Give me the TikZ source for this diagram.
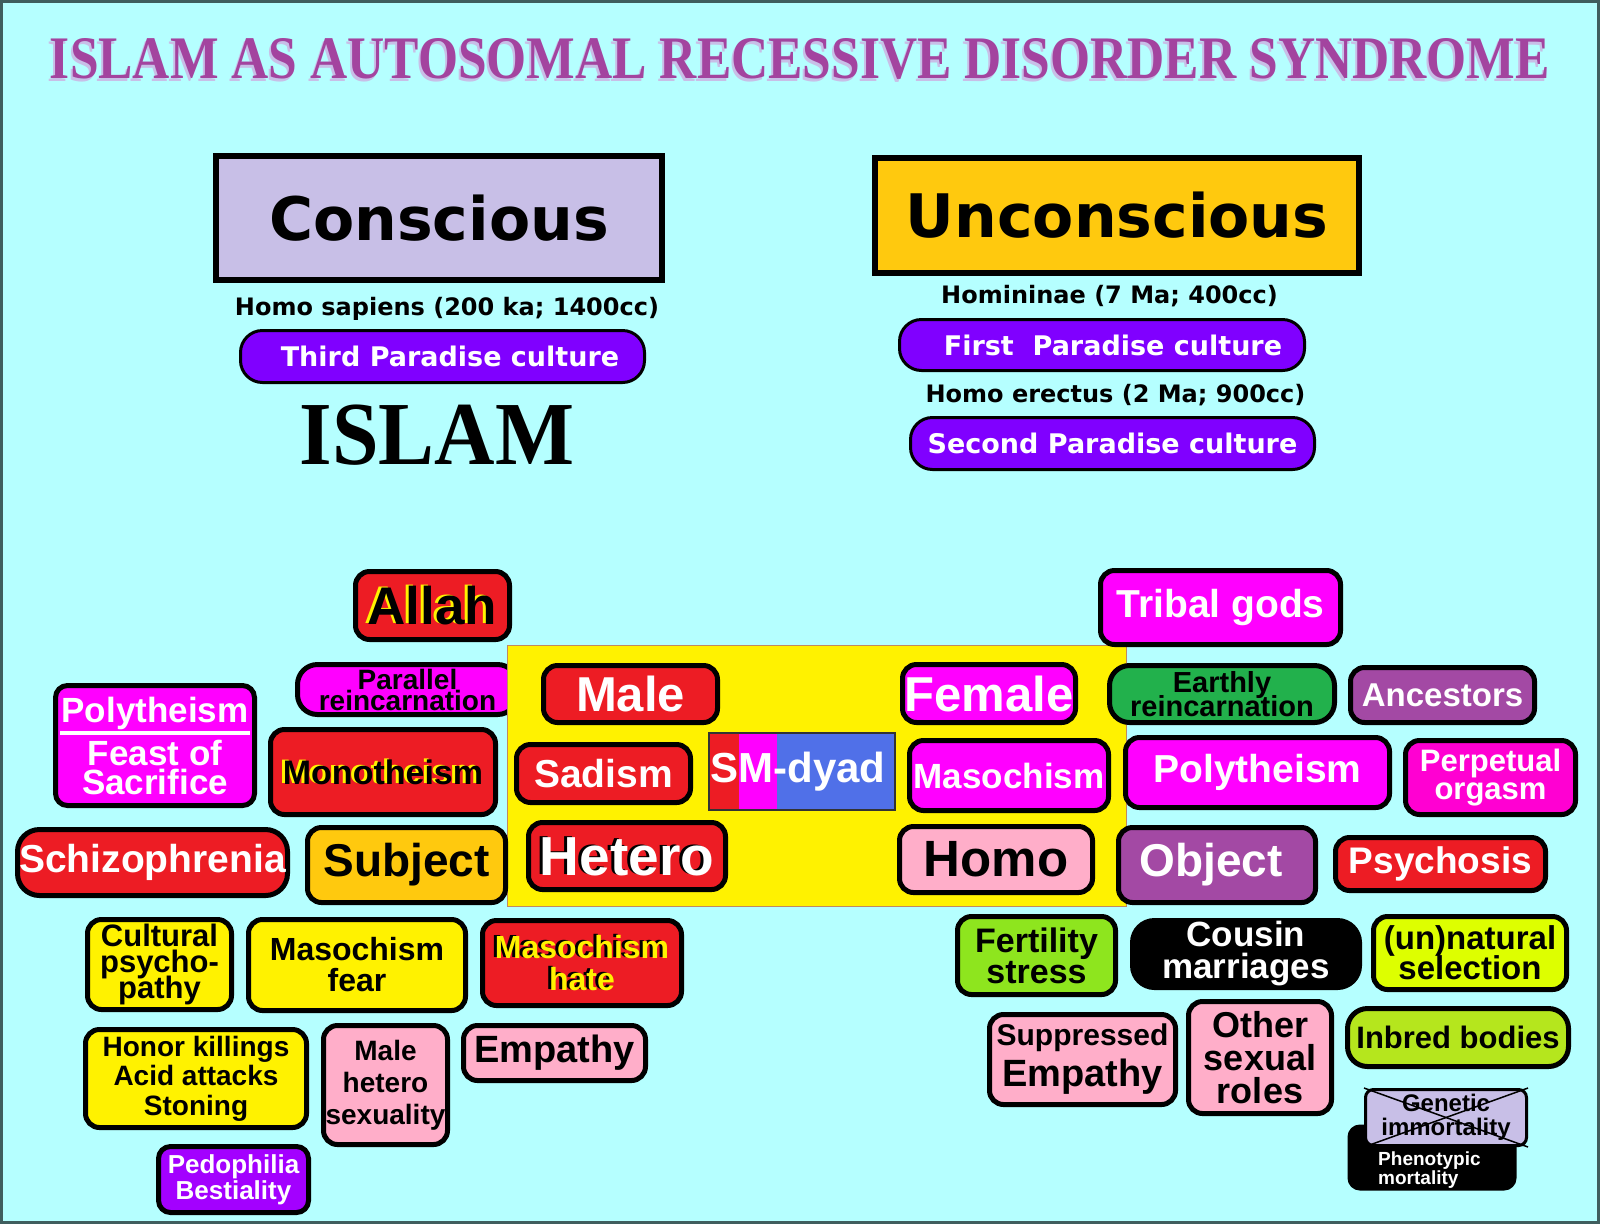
\documentclass[tikz,border=0pt]{standalone}
\usepackage{fontspec}
\setmainfont{Liberation Sans}
\newfontfamily\wideface{DejaVu Sans}
\newfontfamily\serifface{Liberation Serif}

\definecolor{bgcyan}{HTML}{B5FFFF}
\definecolor{framegrey}{HTML}{3F5E5E}
\definecolor{titlepurple}{HTML}{A3449F}
\definecolor{titleshade}{HTML}{C8BFE7}
\definecolor{lavender}{HTML}{C8BFE7}
\definecolor{amber}{HTML}{FFC90E}
\definecolor{violetbox}{HTML}{8000FF}
\definecolor{redbox}{HTML}{ED1C24}
\definecolor{magentabox}{HTML}{FF00FF}
\definecolor{pinkmagenta}{HTML}{FF00D2}
\definecolor{yellowbox}{HTML}{FFF200}
\definecolor{greenbox}{HTML}{22B14C}
\definecolor{purplebox}{HTML}{A349A4}
\definecolor{pinkbox}{HTML}{FFAEC9}
\definecolor{limebox}{HTML}{8EE51E}
\definecolor{olivebox}{HTML}{B5E61D}
\definecolor{citrusbox}{HTML}{DDFF00}
\definecolor{dyadblue}{HTML}{5070E8}
\definecolor{pedoviolet}{HTML}{A300FF}
\definecolor{panelbrown}{HTML}{C08A60}

\newcommand{\boxfs}[2]{\fontsize{#1pt}{#2pt}\selectfont\bfseries\lineskiplimit=-100pt\lineskip=0pt}
\newcommand{\twotone}[2]{\rlap{\kern-3pt\raisebox{1pt}{\textcolor{#1}{#2}}}#2}

\begin{document}
\begin{tikzpicture}[x=1pt, y=-1pt]
	\tikzstyle{tag} = [rectangle, draw=black, line width=5pt, rounded corners=14pt, inner sep=0pt, align=center]
	\tikzstyle{oval} = [rectangle, draw=black, line width=3pt, rounded corners=22pt, fill=violetbox, text=white, inner sep=0pt, font=\wideface\boxfs{27}{27}]
	\tikzstyle{header} = [rectangle, draw=black, line width=6pt, inner sep=0pt, font=\wideface\boxfs{60}{60}]
	\tikzstyle{caption} = [inner sep=0pt, anchor=base, font=\wideface\boxfs{24}{24}]

	% background and frame
	\fill[bgcyan] (0,0) rectangle (1600,1224);
	\draw[framegrey, line width=3pt] (1.5,1.5) rectangle (1598.5,1222.5);
	\useasboundingbox (0,0) rectangle (1600,1224);

	% title
	\node[inner sep=0pt, anchor=base, text=titleshade] (titleshadow) at (798,81) {\resizebox{1500pt}{40pt}{\serifface\bfseries ISLAM AS AUTOSOMAL RECESSIVE DISORDER SYNDROME}};
	\node[inner sep=0pt, anchor=base, text=titlepurple] (title) at (800,78) {\resizebox{1500pt}{40pt}{\serifface\bfseries ISLAM AS AUTOSOMAL RECESSIVE DISORDER SYNDROME}};

	% conscious side
	\node[header, fill=lavender, minimum width=446pt, minimum height=124pt] (conscious) at (439,218) {Conscious};
	\node[caption] (sapiens) at (447,315) {Homo sapiens (200 ka; 1400cc)};
	\node[oval, minimum width=404pt, minimum height=52pt] (third) at (442.5,356.5) {\hspace*{15pt}Third Paradise culture};
	\node[inner sep=0pt, anchor=base, font=\serifface\boxfs{90}{90}] (islam) at (437,464) {\scalebox{0.93}[1]{ISLAM}};

	% unconscious side
	\node[header, fill=amber, minimum width=484pt, minimum height=115pt] (unconscious) at (1117,215.5) {Unconscious};
	\node[caption] (homininae) at (1109.5,303) {Homininae (7 Ma; 400cc)};
	\node[oval, minimum width=405pt, minimum height=51pt] (first) at (1102,345) {\hspace*{22pt}First\ \ Paradise culture};
	\node[caption] (erectus) at (1115.5,402) {Homo erectus (2 Ma; 900cc)};
	\node[oval, minimum width=404pt, minimum height=52pt] (second) at (1112.5,443.5) {Second Paradise culture};

	% central dyad panel
	\node[tag, rounded corners=20pt, fill=magentabox, text=black, minimum width=220pt, minimum height=50pt, font=\boxfs{28}{21}] (parallel) at (407.5,689.5) {Parallel\\reincarnation};
	\node[draw=panelbrown, line width=1pt, fill=yellowbox, minimum width=619pt, minimum height=261pt] (panel) at (816.5,775.5) {};
	\node[tag, fill=redbox, text=white, minimum width=174pt, minimum height=57pt, font=\boxfs{49}{49}] (male) at (630.5,694) {Male};
	\node[tag, fill=magentabox, text=white, minimum width=173pt, minimum height=58pt, font=\boxfs{49}{49}] (female) at (989,693.5) {Female};
	\node[tag, fill=redbox, text=white, minimum width=174pt, minimum height=58pt, font=\boxfs{39}{39}] (sadism) at (603.5,773.5) {Sadism};
	\node[rectangle, draw=black!80, line width=2pt, fill=dyadblue, text=white, inner sep=0pt, minimum width=186pt, minimum height=77pt, font=\boxfs{42}{42},
		path picture={
			\fill[redbox] (path picture bounding box.north west) rectangle ([xshift=30pt]path picture bounding box.south west);
			\fill[magentabox] ([xshift=30pt]path picture bounding box.north west) rectangle ([xshift=68pt]path picture bounding box.south west);
		}] (smdyad) at (802,771.5) {SM-dyad\hspace*{8pt}};
	\node[tag, fill=magentabox, text=white, minimum width=199pt, minimum height=70pt, font=\boxfs{35}{35}] (masochism) at (1009,775.5) {Masochism};
	\node[tag, fill=redbox, text=white, minimum width=197pt, minimum height=67pt, font=\boxfs{55}{55}] (hetero) at (627,856) {\twotone{black}{Hetero}};
	\node[tag, fill=pinkbox, text=black, minimum width=193pt, minimum height=66pt, font=\boxfs{51}{51}] (homo) at (996,859.5) {Homo};

	% left cluster
	\node[tag, fill=redbox, text=black, minimum width=154pt, minimum height=68pt, font=\boxfs{53}{53}] (allah) at (432.5,605.5) {\twotone{yellowbox}{Allah}};
	\node[tag, rounded corners=12pt, fill=magentabox, text=white, minimum width=199pt, minimum height=120pt, font=\boxfs{35}{29}] (polyleft) at (155,745.5) {Polytheism\\[14pt]Feast of\\Sacrifice};
	\draw[white, line width=4pt] ([xshift=7pt, yshift=13pt]polyleft.west) -- ([xshift=-7pt, yshift=13pt]polyleft.east);
	\node[tag, fill=redbox, text=black, minimum width=225pt, minimum height=85pt, font=\boxfs{34}{34}] (mono) at (383,772) {\twotone{yellowbox}{Monotheism}};
	\node[tag, rounded corners=22pt, fill=redbox, text=white, minimum width=270pt, minimum height=66pt, font=\boxfs{39}{39}] (schizo) at (152.5,862.5) {Schizophrenia};
	\node[tag, fill=amber, text=black, minimum width=198pt, minimum height=75pt, font=\boxfs{46}{46}] (subject) at (406.5,865) {Subject};

	% right cluster
	\node[tag, fill=magentabox, text=white, minimum width=240pt, minimum height=74pt, font=\boxfs{39}{39}] (tribal) at (1220.5,607.5) {Tribal gods};
	\node[tag, rounded corners=20pt, fill=greenbox, text=black, minimum width=225pt, minimum height=57pt, font=\boxfs{29}{24}] (earthly) at (1222,694) {Earthly\\reincarnation};
	\node[tag, fill=purplebox, text=white, minimum width=184pt, minimum height=55pt, font=\boxfs{33}{33}] (ancestors) at (1442.5,695) {Ancestors};
	\node[tag, fill=magentabox, text=white, minimum width=264pt, minimum height=70pt, font=\boxfs{39}{39}] (polyright) at (1257.5,772.5) {Polytheism};
	\node[tag, fill=pinkmagenta, text=white, minimum width=170pt, minimum height=74pt, font=\boxfs{31}{28}] (perpetual) at (1490.5,777.5) {Perpetual\\orgasm};
	\node[tag, fill=purplebox, text=white, minimum width=197pt, minimum height=75pt, font=\boxfs{46}{46}] (object) at (1217,865) {Object\hspace*{12pt}};
	\node[tag, fill=redbox, text=white, minimum width=210pt, minimum height=53pt, font=\boxfs{37}{37}] (psychosis) at (1440.5,864) {Psychosis};

	% lower left
	\node[tag, fill=yellowbox, text=black, minimum width=144pt, minimum height=90pt, font=\boxfs{31}{26}] (cultural) at (159.5,964.5) {Cultural\\psycho-\\pathy};
	\node[tag, fill=yellowbox, text=black, minimum width=217pt, minimum height=91pt, font=\boxfs{32}{31}] (fear) at (357,965) {Masochism\\fear};
	\node[tag, fill=redbox, text=yellowbox, minimum width=199pt, minimum height=85pt, font=\boxfs{32}{32}] (hate) at (582,963) {\twotone{black}{Masochism}\\\twotone{black}{hate}};
	\node[tag, fill=yellowbox, text=black, minimum width=221pt, minimum height=98pt, font=\boxfs{28}{29.5}] (honor) at (196,1078.5) {Honor killings\\Acid attacks\\Stoning};
	\node[tag, fill=pinkbox, text=black, minimum width=124pt, minimum height=119pt, font=\boxfs{28}{32}] (malehetero) at (385.5,1085) {Male\\hetero\\sexuality};
	\node[tag, fill=pinkbox, text=black, minimum width=182pt, minimum height=55pt, font=\boxfs{38}{38}] (empathy) at (554.5,1053) {Empathy};
	\node[tag, rounded corners=12pt, fill=pedoviolet, text=white, minimum width=150pt, minimum height=66pt, font=\boxfs{26}{26}] (pedo) at (233.5,1179.5) {Pedophilia\\Bestiality};

	% lower right
	\node[tag, fill=limebox, text=black, minimum width=158pt, minimum height=78pt, font=\boxfs{34}{31}] (fertility) at (1036.5,955.5) {Fertility\\stress};
	\node[tag, rounded corners=22pt, fill=black, text=white, minimum width=227pt, minimum height=67pt, font=\boxfs{35}{32}] (cousin) at (1246,954) {Cousin\\marriages};
	\node[tag, fill=citrusbox, text=black, minimum width=193pt, minimum height=73pt, font=\boxfs{33}{30}] (unnatural) at (1470,953) {(un)natural\\selection};
	\node[tag, fill=pinkbox, text=black, minimum width=186pt, minimum height=90pt, font=\boxfs{38}{41}] (suppressed) at (1082.5,1059.5) {{\fontsize{30pt}{41pt}\selectfont Suppressed}\\Empathy};
	\node[tag, fill=pinkbox, text=black, minimum width=143pt, minimum height=112pt, font=\boxfs{36}{33}] (otherroles) at (1260,1057.5) {Other\\sexual\\roles};
	\node[tag, rounded corners=20pt, fill=olivebox, text=black, minimum width=221pt, minimum height=58pt, font=\boxfs{31}{31}] (inbred) at (1458,1037.5) {Inbred bodies};
	\node[tag, rounded corners=10pt, fill=black, minimum width=164pt, minimum height=61pt] (pheno) at (1432,1157.5) {};
	\node[inner sep=0pt, anchor=north west, align=left, text=white, font=\boxfs{19}{19}] (phenotext) at (1378,1152) {Phenotypic\\mortality};
	\node[tag, line width=3pt, rounded corners=8pt, fill=lavender, text=black, minimum width=161pt, minimum height=56pt, font=\boxfs{24}{24}] (genetic) at (1446,1117.5) {Genetic\\immortality};
	\draw[line width=1.5pt] (genetic.north west) -- (genetic.south east);
	\draw[line width=1.5pt] (genetic.north east) -- (genetic.south west);
\end{tikzpicture}
\end{document}
